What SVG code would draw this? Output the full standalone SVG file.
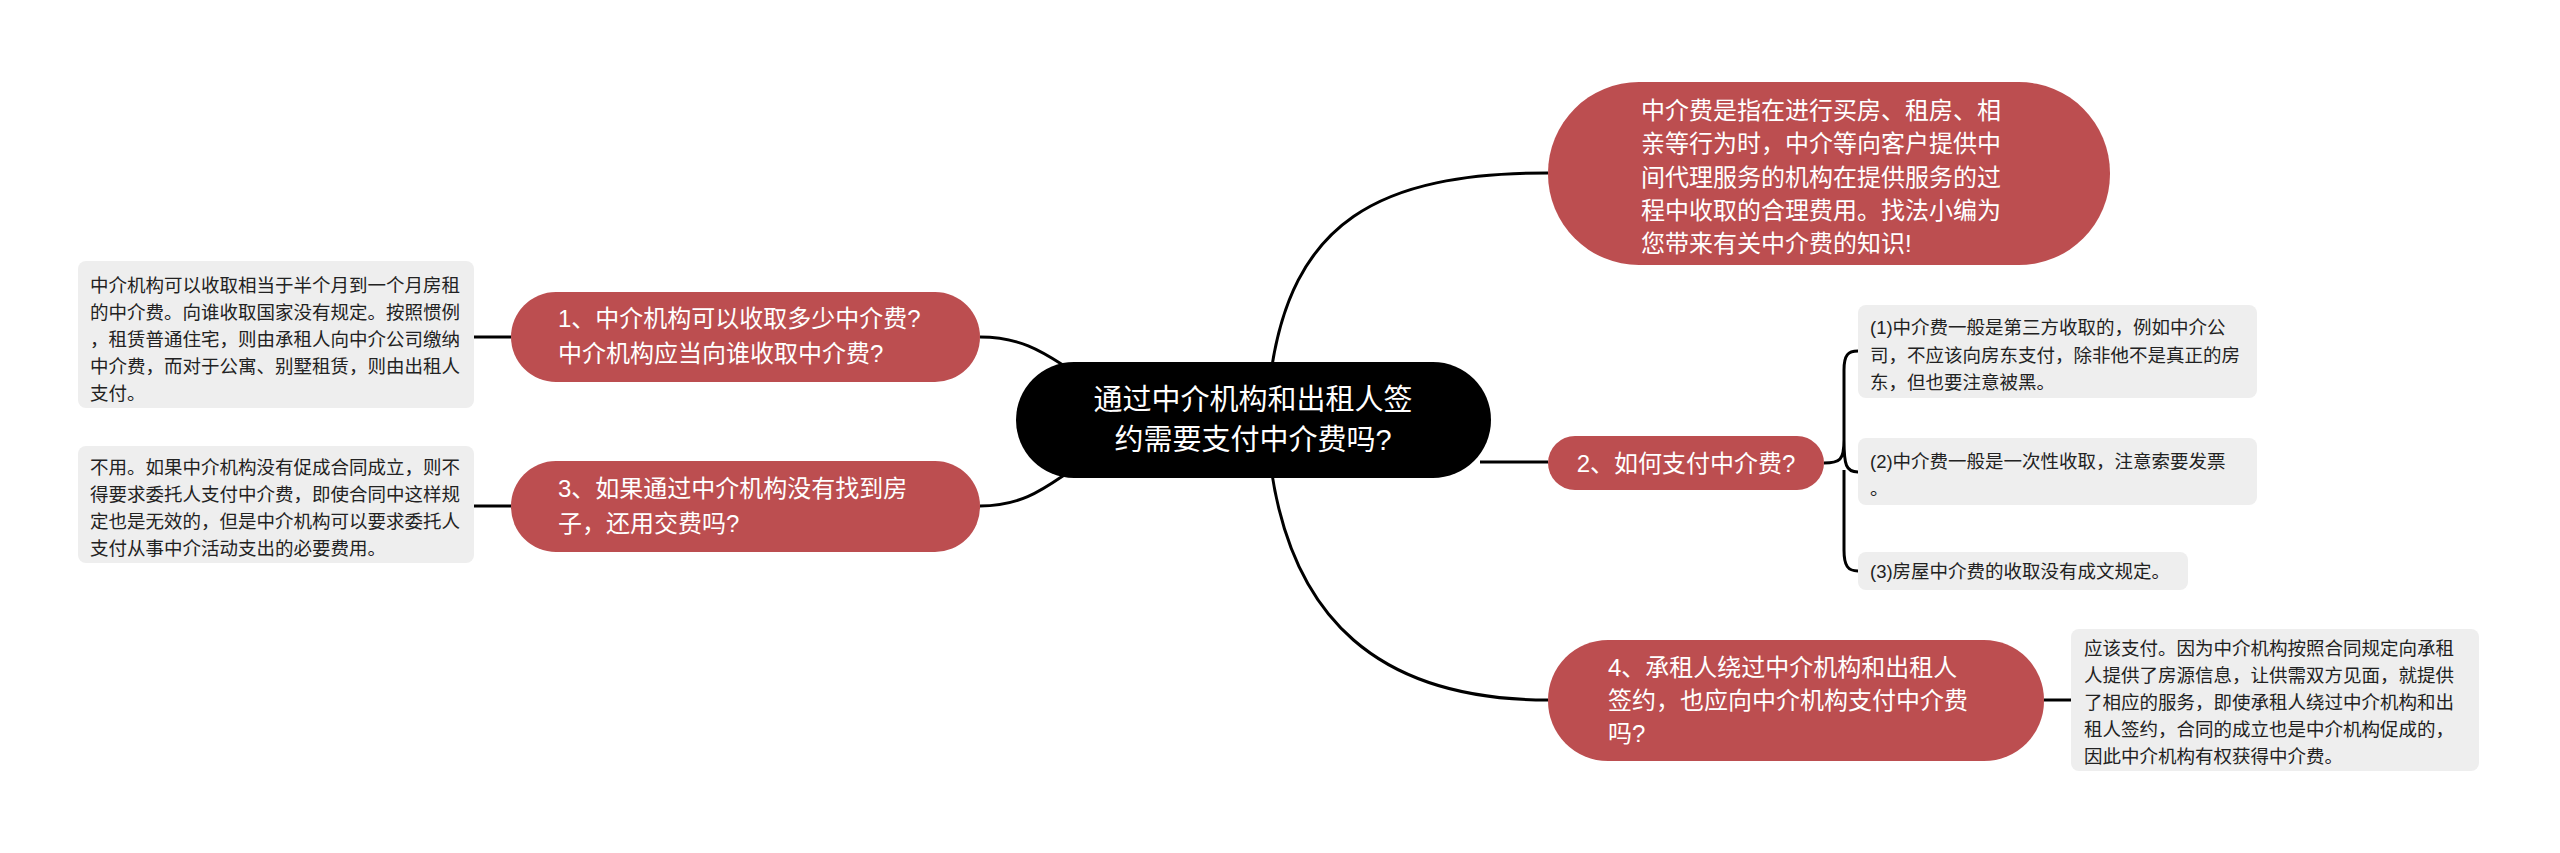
<svg xmlns="http://www.w3.org/2000/svg" width="2560" height="853" viewBox="0 0 2560 853">
<style>
text{font-family:"Liberation Sans","Noto Sans CJK SC",sans-serif}
.r{fill:#BC4E50}
.b{fill:#EEEEEE}
.w{fill:#fff;font-size:24px}
.k{fill:#222;font-size:18.5px}
.c{fill:none;stroke:#000;stroke-width:3}
</style>
<rect width="2560" height="853" fill="#fff"/>
<g id="connectors">
<path class="c" d="M1270,380 C1290,220 1380,173 1548,173"/>
<path class="c" d="M1270,460 C1290,620 1380,700 1548,700"/>
<path class="c" d="M1480,462 L1548,462"/>
<path class="c" d="M980,337 C1040,337 1060,370 1100,385"/>
<path class="c" d="M980,506 C1040,506 1060,470 1100,455"/>
<path class="c" d="M474,337 L511,337"/>
<path class="c" d="M474,506 L511,506"/>
<path class="c" d="M2044,700 L2071,700"/>
<path class="c" d="M1824,463 C1840,463 1844,460 1844,440 L1844,370 C1844,355 1848,351 1858,351 M1844,440 C1844,465 1846,472 1858,472 M1844,470 L1844,550 C1844,566 1848,571 1858,571"/>
</g>
<g id="root">
<rect x="1016" y="362" width="475" height="116" rx="58" fill="#000"/>
<text x="1253" y="410" font-size="29" fill="#fff" text-anchor="middle">通过中介机构和出租人签</text>
<text x="1253" y="450" font-size="29" fill="#fff" text-anchor="middle">约需要支付中介费吗?</text>
</g>
<g id="top">
<rect class="r" x="1548" y="82" width="562" height="183" rx="91"/>
<text class="w" x="1641" y="119">中介费是指在进行买房、租房、相</text>
<text class="w" x="1641" y="152">亲等行为时，中介等向客户提供中</text>
<text class="w" x="1641" y="186">间代理服务的机构在提供服务的过</text>
<text class="w" x="1641" y="219">程中收取的合理费用。找法小编为</text>
<text class="w" x="1641" y="252">您带来有关中介费的知识!</text>
</g>
<g id="n2">
<rect class="r" x="1548" y="436" width="276" height="54" rx="27"/>
<text class="w" x="1686" y="472" text-anchor="middle">2、如何支付中介费?</text>
</g>
<g id="n2a">
<rect class="b" x="1858" y="305" width="399" height="93" rx="8"/>
<text class="k" x="1870" y="334">(1)中介费一般是第三方收取的，例如中介公</text>
<text class="k" x="1870" y="362">司，不应该向房东支付，除非他不是真正的房</text>
<text class="k" x="1870" y="389">东，但也要注意被黑。</text>
</g>
<g id="n2b">
<rect class="b" x="1858" y="438" width="399" height="67" rx="8"/>
<text class="k" x="1870" y="468">(2)中介费一般是一次性收取，注意索要发票</text>
<text class="k" x="1870" y="495">。</text>
</g>
<g id="n2c">
<rect class="b" x="1858" y="552" width="330" height="38" rx="8"/>
<text class="k" x="1870" y="578">(3)房屋中介费的收取没有成文规定。</text>
</g>
<g id="n4">
<rect class="r" x="1548" y="640" width="496" height="121" rx="60"/>
<text class="w" x="1608" y="676">4、承租人绕过中介机构和出租人</text>
<text class="w" x="1608" y="709">签约，也应向中介机构支付中介费</text>
<text class="w" x="1608" y="742">吗?</text>
</g>
<g id="n4a">
<rect class="b" x="2071" y="629" width="408" height="142" rx="8"/>
<text class="k" x="2084" y="655">应该支付。因为中介机构按照合同规定向承租</text>
<text class="k" x="2084" y="682">人提供了房源信息，让供需双方见面，就提供</text>
<text class="k" x="2084" y="709">了相应的服务，即使承租人绕过中介机构和出</text>
<text class="k" x="2084" y="736">租人签约，合同的成立也是中介机构促成的，</text>
<text class="k" x="2084" y="763">因此中介机构有权获得中介费。</text>
</g>
<g id="n1">
<rect class="r" x="511" y="292" width="469" height="90" rx="45"/>
<text class="w" x="558" y="327">1、中介机构可以收取多少中介费?</text>
<text class="w" x="558" y="362">中介机构应当向谁收取中介费?</text>
</g>
<g id="n1a">
<rect class="b" x="78" y="261" width="396" height="147" rx="8"/>
<text class="k" x="90" y="292">中介机构可以收取相当于半个月到一个月房租</text>
<text class="k" x="90" y="319">的中介费。向谁收取国家没有规定。按照惯例</text>
<text class="k" x="90" y="346">，租赁普通住宅，则由承租人向中介公司缴纳</text>
<text class="k" x="90" y="373">中介费，而对于公寓、别墅租赁，则由出租人</text>
<text class="k" x="90" y="400">支付。</text>
</g>
<g id="n3">
<rect class="r" x="511" y="461" width="469" height="91" rx="45"/>
<text class="w" x="558" y="497">3、如果通过中介机构没有找到房</text>
<text class="w" x="558" y="532">子，还用交费吗?</text>
</g>
<g id="n3a">
<rect class="b" x="78" y="446" width="396" height="117" rx="8"/>
<text class="k" x="90" y="474">不用。如果中介机构没有促成合同成立，则不</text>
<text class="k" x="90" y="501">得要求委托人支付中介费，即使合同中这样规</text>
<text class="k" x="90" y="528">定也是无效的，但是中介机构可以要求委托人</text>
<text class="k" x="90" y="555">支付从事中介活动支出的必要费用。</text>
</g>
</svg>
